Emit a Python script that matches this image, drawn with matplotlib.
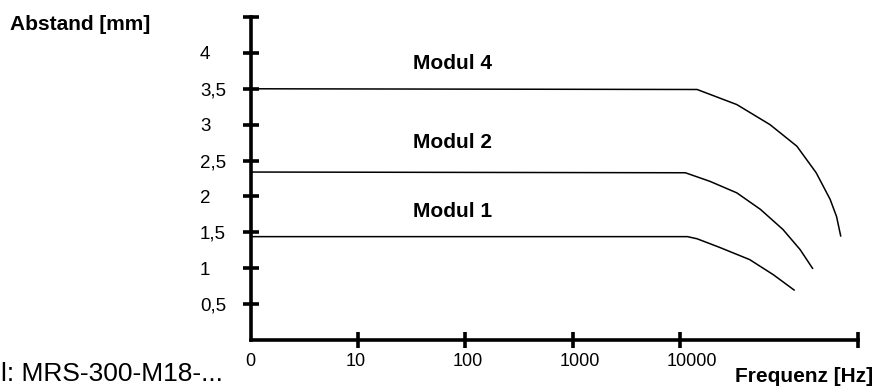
import matplotlib
matplotlib.use("Agg")
import matplotlib.pyplot as plt
import matplotlib.transforms as mtransforms

plt.rcParams['font.family'] = ['Liberation Sans', 'DejaVu Sans']

# x positions are category slots (0, 10, 100, 1000, 10000 equally spaced)
x_tick_labels = ['0', '10', '100', '1000', '10000']
y_tick_values = [0.5, 1, 1.5, 2, 2.5, 3, 3.5, 4]
y_tick_labels = ['0,5', '1', '1,5', '2', '2,5', '3', '3,5', '4']

modul4_x = [0.0, 4.16, 4.53, 4.84, 5.09, 5.27, 5.40, 5.46, 5.50]
modul4_y = [3.50, 3.49, 3.28, 3.00, 2.70, 2.33, 1.96, 1.72, 1.44]
modul2_x = [0.0, 4.05, 4.28, 4.53, 4.75, 4.96, 5.12, 5.24]
modul2_y = [2.34, 2.33, 2.21, 2.05, 1.82, 1.54, 1.26, 0.99]
modul1_x = [0.0, 4.07, 4.16, 4.37, 4.65, 4.87, 5.07]
modul1_y = [1.44, 1.44, 1.41, 1.29, 1.12, 0.91, 0.69]

fig = plt.figure(figsize=(8.77, 3.87), dpi=100)
ax = fig.add_axes([251/877, (387-340)/387, 607/877, 323/387])
ax.set_xlim(0, 5.66)
ax.set_ylim(0, 4.5)

for xs, ys in [(modul4_x, modul4_y), (modul2_x, modul2_y), (modul1_x, modul1_y)]:
    ax.plot(xs, ys, color='black', lw=1.1, solid_capstyle='butt',
            solid_joinstyle='round', clip_on=False)

ax.text(1.51, 3.85, 'Modul 4', fontsize=15, fontweight='bold', va='center', ha='left')
ax.text(1.51, 2.75, 'Modul 2', fontsize=15, fontweight='bold', va='center', ha='left')
ax.text(1.51, 1.79, 'Modul 1', fontsize=15, fontweight='bold', va='center', ha='left')

for s in ['top', 'right']:
    ax.spines[s].set_visible(False)
for s in ['left', 'bottom']:
    ax.spines[s].set_linewidth(2.6)
    ax.spines[s].set_capstyle('projecting')

x_positions = list(range(len(x_tick_labels)))
ax.set_xticks(x_positions + [5.66])
ax.set_yticks(y_tick_values + [4.5])
ax.tick_params(axis='both', direction='inout', length=12, width=2.6,
               labelbottom=False, labelleft=False)
ax.xaxis.get_major_ticks()[0].tick1line.set_visible(False)

# tick labels: left-aligned, as in the reference
xtrans = ax.get_xaxis_transform()
for i, (xp, lab) in enumerate(zip(x_positions, x_tick_labels)):
    dx = -6 if i == 0 else -13
    t = xtrans + mtransforms.ScaledTranslation(dx/100, -22/100, fig.dpi_scale_trans)
    ax.text(xp, 0, lab, transform=t, fontsize=13, ha='left', va='center')

ytrans = mtransforms.blended_transform_factory(fig.transFigure, ax.transData) + \
    mtransforms.ScaledTranslation(0, -6.5/100, fig.dpi_scale_trans)
for yv, lab in zip(y_tick_values, y_tick_labels):
    ax.text(200/877, yv, lab, transform=ytrans, fontsize=13.5, ha='left', va='baseline')

fig.text(10/877, 1-25/387, 'Abstand [mm]', fontsize=15, fontweight='bold', va='center', ha='left')
fig.text(873/877, 1-376/387, 'Frequenz [Hz]', fontsize=15, fontweight='bold', va='center', ha='right')
fig.text(1/877, 1-374/387, 'l: MRS-300-M18-...', fontsize=19, va='center', ha='left')

fig.savefig('out.png', dpi=100)
